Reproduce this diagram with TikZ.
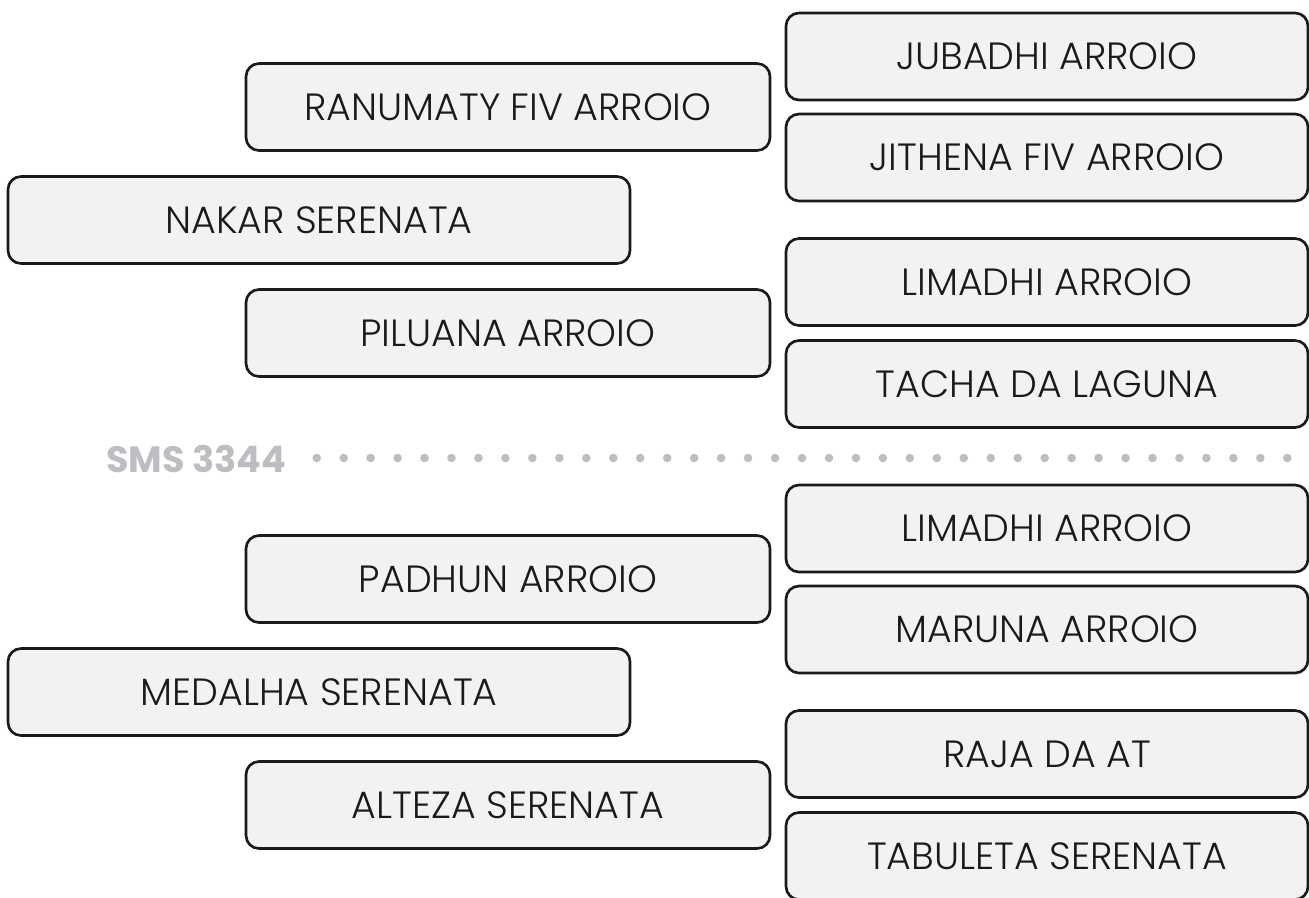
\documentclass[tikz,border=0pt]{standalone}
\usepackage{fontspec}
\setmainfont{Poppins Light}[BoldFont=Poppins Bold]
\usepackage{xcolor}
\definecolor{TagFill}{HTML}{F1F2F4}
\definecolor{TagLine}{HTML}{1A1A1A}
\definecolor{SMSGray}{HTML}{BDBEC2}
\tikzset{
  tagbox/.style={draw=TagLine,fill=TagFill,line width=0.75pt,rounded corners=0.13cm,
    minimum height=0.87cm,inner sep=0pt,font=\fontsize{10.8}{12}\selectfont,text=TagLine},
  tagright/.style={tagbox,minimum width=5.22cm},
  tagmid/.style={tagbox,minimum width=5.24cm},
  tagleft/.style={tagbox,minimum width=6.22cm}
}

\begin{document}
\begin{tikzpicture}[x=1cm,y=1cm]
\path[use as bounding box] (0,0) rectangle (13.09,8.97);
% upper group
\node[tagright] (jubadhi) at (10.47,8.405) {JUBADHI ARROIO};
\node[tagright] (jithena) at (10.47,7.395) {JITHENA FIV ARROIO};
\node[tagright] (limadhiA) at (10.47,6.15) {LIMADHI ARROIO};
\node[tagright] (tacha) at (10.47,5.13) {TACHA DA LAGUNA};
\node[tagmid] (ranumaty) at (5.08,7.90) {RANUMATY FIV ARROIO};
\node[tagmid] (piluana) at (5.08,5.64) {PILUANA ARROIO};
\node[tagleft] (nakar) at (3.19,6.77) {NAKAR SERENATA};
% divider
\node[anchor=base east,inner sep=0pt,text=SMSGray,font=\bfseries\fontsize{10.4}{12}\selectfont] (sms) at (2.87,4.25) {SMS 3344};
\foreach \i in {0,...,36}
  \fill[SMSGray] ({3.167+\i*0.2696},4.39) circle (0.043);
% lower group
\node[tagright] (limadhiB) at (10.47,3.685) {LIMADHI ARROIO};
\node[tagright] (maruna) at (10.47,2.675) {MARUNA ARROIO};
\node[tagright] (raja) at (10.47,1.43) {RAJA DA AT};
\node[tagright] (tabuleta) at (10.47,0.41) {TABULETA SERENATA};
\node[tagmid] (padhun) at (5.08,3.18) {PADHUN ARROIO};
\node[tagmid] (alteza) at (5.08,0.92) {ALTEZA SERENATA};
\node[tagleft] (medalha) at (3.19,2.05) {MEDALHA SERENATA};
\end{tikzpicture}
\end{document}
